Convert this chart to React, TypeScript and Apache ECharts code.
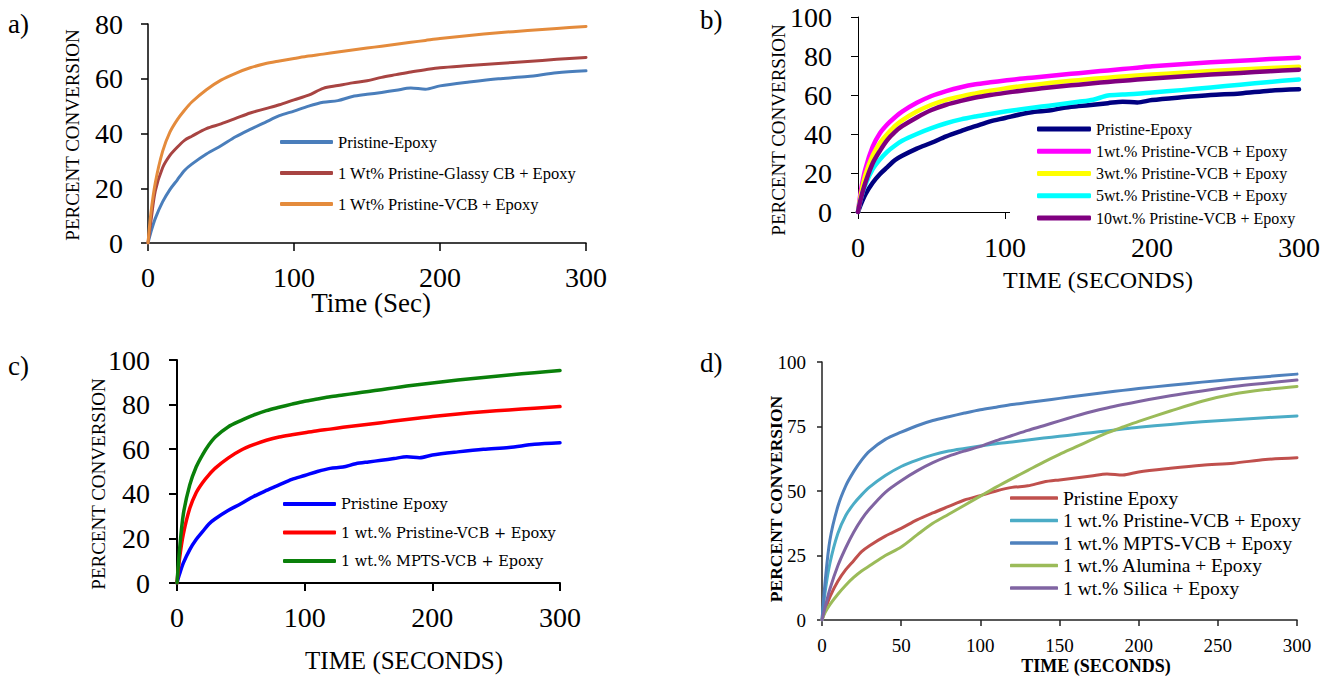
import React, { useEffect, useRef } from "react";
import * as echarts from "echarts";

// ---- data (time in seconds, percent conversion) ----
const time = [0, 2, 5, 10, 15, 20, 25, 30, 40, 50, 60, 70, 80, 90, 100, 110, 120, 130, 140, 150, 160, 170, 180, 190, 200, 220, 240, 260, 280, 300];

const pristineEpoxy = [0, 4, 9, 15, 19.5, 23, 26.5, 28.8, 32.5, 35.5, 38.8, 41.5, 44, 46.5, 48.2, 50, 51.4, 52, 53.5, 54.3, 55, 55.8, 56.6, 56.2, 57.4, 58.8, 60, 60.8, 62.2, 62.9];
const glassyCB = [0, 8, 19, 27.5, 32, 35, 37.5, 39, 41.8, 43.5, 45.5, 47.5, 49, 50.5, 52.3, 54, 56.5, 57.5, 58.5, 59.3, 60.5, 61.5, 62.5, 63.3, 64, 64.8, 65.6, 66.3, 67.1, 67.8];
const vcb1 = [0, 11, 22, 33.5, 40.5, 45, 48.5, 51.5, 56, 59.5, 62, 64, 65.5, 66.5, 67.4, 68.3, 69, 69.8, 70.5, 71.2, 71.9, 72.6, 73.3, 74, 74.7, 75.8, 76.8, 77.6, 78.4, 79.1];
const vcb3 = [0, 9, 19, 29, 35.5, 40, 44, 47, 51.5, 55, 57.5, 59.3, 60.8, 62.2, 63.4, 64.4, 65.3, 66.1, 66.9, 67.6, 68.3, 68.9, 69.5, 70, 70.5, 71.4, 72.3, 73.1, 73.8, 74.5];
const vcb5 = [0, 7, 14, 22, 27, 31, 34, 36.5, 40, 43, 45.5, 47.5, 49, 50.3, 51.5, 52.6, 53.6, 54.5, 55.5, 56.5, 57.6, 59.7, 60.2, 60.6, 61.3, 62.5, 63.9, 65.3, 66.7, 68];
const vcb10 = [0, 7, 15, 25, 31.5, 37, 41, 44, 48.5, 52.3, 55, 57, 58.7, 60, 61.1, 62.1, 63, 63.8, 64.6, 65.3, 66, 66.7, 67.3, 67.9, 68.5, 69.5, 70.5, 71.3, 72.2, 73];
const mpts = [0, 15, 31, 44, 52, 57.5, 62, 65.5, 70, 72.8, 75.3, 77.3, 78.8, 80.2, 81.5, 82.5, 83.5, 84.3, 85.1, 85.9, 86.7, 87.5, 88.3, 89, 89.7, 91, 92.2, 93.3, 94.3, 95.3];
const alumina = [0, 3, 6, 10, 13.5, 16.5, 19, 21, 25, 28.3, 33, 37.5, 41, 44.5, 48, 51.5, 54.8, 58, 61.2, 64.2, 67, 69.8, 72.5, 74.8, 77, 81, 84.8, 87.6, 89.3, 90.5];
const silica = [0, 5, 12, 21, 28, 34, 39, 43, 49.5, 54, 57.8, 61, 63.5, 65.5, 67.3, 69.5, 71.5, 73.5, 75.3, 77.2, 79, 80.7, 82.2, 83.5, 84.7, 86.9, 88.8, 90.5, 91.8, 93];

// legend labels per panel
const namesA = ["Pristine-Epoxy", "1 Wt% Pristine-Glassy CB + Epoxy", "1 Wt% Pristine-VCB + Epoxy"];
const namesB = ["Pristine-Epoxy", "1wt.% Pristine-VCB + Epoxy", "3wt.% Pristine-VCB + Epoxy", "5wt.% Pristine-VCB + Epoxy", "10wt.% Pristine-VCB + Epoxy"];
const namesC = ["Pristine Epoxy", "1 wt.% Pristine-VCB + Epoxy", "1 wt.% MPTS-VCB + Epoxy"];
const namesD = ["Pristine Epoxy", "1 wt.% Pristine-VCB + Epoxy", "1 wt.% MPTS-VCB + Epoxy", "1 wt.% Alumina + Epoxy", "1 wt.% Silica + Epoxy"];

const xTicksAC = [0, 100, 200, 300];
const yTicksA = [0, 20, 40, 60, 80];

const SERIF = "'Liberation Serif', 'Times New Roman', serif";
const DJV = "'DejaVu Serif', serif";

const pair = (vals: number[]) => time.map((t, i) => [t, vals[i]]);

export default function App() {
  const ref = useRef<HTMLDivElement>(null);
  useEffect(() => {
    if (!ref.current) return;
    const chart = echarts.init(ref.current, null, { renderer: "svg" });

    const mkSeries = (name: string, panel: string, vals: number[], color: string, width: number, gi: number) => ({
      name: name + "|" + panel,
      type: "line",
      xAxisIndex: gi,
      yAxisIndex: gi,
      data: pair(vals),
      showSymbol: false,
      symbol: "none",
      smooth: 0.3,
      itemStyle: { color },
      lineStyle: { color, width, cap: "round", join: "round" },
      z: 2,
    });

    const xAx = (gi: number, interval: number, fontSize: number, margin: number, lw: number, tl: number, col: string, family: string) => ({
      type: "value",
      gridIndex: gi,
      min: 0,
      max: xTicksAC[xTicksAC.length - 1],
      interval,
      axisLine: { show: true, onZero: false, lineStyle: { color: col, width: lw } },
      axisTick: { show: true, inside: false, length: tl, lineStyle: { color: col, width: lw } },
      axisLabel: { fontSize, fontFamily: family, color: "#000", margin },
      splitLine: { show: false },
    });
    const yAx = (gi: number, max: number, interval: number, fontSize: number, margin: number, lw: number, tl: number, col: string, family: string) => ({
      type: "value",
      gridIndex: gi,
      min: 0,
      max,
      interval,
      axisLine: { show: true, onZero: false, lineStyle: { color: col, width: lw } },
      axisTick: { show: true, inside: false, length: tl, lineStyle: { color: col, width: lw } },
      axisLabel: { fontSize, fontFamily: family, color: "#000", margin },
      splitLine: { show: false },
    });

    const fmt = (n: string) => n.split("|")[0];
    const legend = (names: string[], panel: string, o: any) => ({
      orient: "vertical",
      selectedMode: false,
      icon: "roundRect",
      formatter: fmt,
      data: names.map((n) => n + "|" + panel),
      ...o,
    });

    const txt = (text: string, x: number, y: number, size: number, opts: any = {}) => ({
      type: "text",
      x,
      y,
      rotation: opts.rot || 0,
      style: {
        text,
        fontSize: size,
        fontFamily: opts.family || SERIF,
        fontWeight: opts.bold ? "bold" : "normal",
        fill: "#000",
        align: opts.align || "center",
        verticalAlign: "middle",
      },
      z: 10,
    });

    const option: any = {
      animation: false,
      backgroundColor: "#fff",
      grid: [
        { left: 148, top: 24, width: 438, height: 219 },
        { left: 858, top: 17, width: 441, height: 195 },
        { left: 177, top: 360, width: 383, height: 223 },
        { left: 822, top: 362, width: 475, height: 258 },
      ],
      xAxis: [
        xAx(0, 100, 28, 20, 1.5, 8, "#000", SERIF),
        xAx(1, 100, 28, 21, 1, 7, "#000", SERIF),
        xAx(2, 100, 28, 20, 2, 8, "#000", SERIF),
        xAx(3, 50, 19, 16, 1.5, 6, "#222", SERIF),
      ],
      yAxis: [
        yAx(0, yTicksA[yTicksA.length - 1], 20, 28, 25, 1.5, 7, "#000", SERIF),
        yAx(1, 100, 20, 28, 26, 1, 7, "#000", SERIF),
        yAx(2, 100, 20, 28, 27, 2, 8, "#000", SERIF),
        yAx(3, 100, 25, 19, 16, 1.5, 5, "#222", SERIF),
      ],
      legend: [
        legend(namesA, "a", {
          left: 280, top: 132, padding: 0, itemWidth: 53, itemHeight: 4, itemGap: 11,
          textStyle: { fontSize: 16.5, fontFamily: SERIF, color: "#000", lineHeight: 20 },
        }),
        legend(namesB, "b", {
          left: 1010, top: 119, padding: [1, 10, 4, 27], itemWidth: 54, itemHeight: 5, itemGap: 4.25,
          backgroundColor: "#fff",
          textStyle: { fontSize: 16, fontFamily: SERIF, color: "#000", lineHeight: 18 },
        }),
        legend(namesC, "c", {
          left: 283, top: 495, padding: 0, itemWidth: 53, itemHeight: 4, itemGap: 10.5,
          textStyle: { fontSize: 14.5, fontFamily: DJV, color: "#000", lineHeight: 18 },
        }),
        legend(namesD, "d", {
          left: 1010, top: 488, padding: 0, itemWidth: 48, itemHeight: 3.5, itemGap: 2.5,
          textStyle: { fontSize: 19.5, fontFamily: SERIF, color: "#000", lineHeight: 20 },
        }),
      ],
      series: [
        mkSeries(namesA[0], "a", pristineEpoxy, "#4A7EBB", 3, 0),
        mkSeries(namesA[1], "a", glassyCB, "#A84442", 3, 0),
        mkSeries(namesA[2], "a", vcb1, "#E48B3C", 3, 0),

        mkSeries(namesB[0], "b", pristineEpoxy, "#000080", 4.5, 1),
        mkSeries(namesB[1], "b", vcb1, "#FF00FF", 4.5, 1),
        mkSeries(namesB[2], "b", vcb3, "#FFFF00", 4.5, 1),
        mkSeries(namesB[3], "b", vcb5, "#00FFFF", 4.5, 1),
        mkSeries(namesB[4], "b", vcb10, "#800080", 4.5, 1),

        mkSeries(namesC[0], "c", pristineEpoxy, "#0000FF", 3.5, 2),
        mkSeries(namesC[1], "c", vcb1, "#FF0000", 3.5, 2),
        mkSeries(namesC[2], "c", mpts, "#0A800A", 3.5, 2),

        mkSeries(namesD[0], "d", pristineEpoxy, "#C0504D", 3, 3),
        mkSeries(namesD[1], "d", vcb1, "#4BACC6", 3, 3),
        mkSeries(namesD[2], "d", mpts, "#4F81BD", 3, 3),
        mkSeries(namesD[3], "d", alumina, "#9BBB59", 3, 3),
        mkSeries(namesD[4], "d", silica, "#8064A2", 3, 3),
      ],
      graphic: [
        txt("a)", 8, 24, 27, { align: "left" }),
        txt("b)", 700, 20, 27, { align: "left" }),
        txt("c)", 8, 366, 27, { align: "left" }),
        txt("d)", 700, 363, 27, { align: "left" }),
        txt("PERCENT CONVERSION", 72, 135, 19, { rot: Math.PI / 2 }),
        txt("Time (Sec)", 371, 303, 27),
        txt("PERCENT CONVERSION", 778, 130, 19, { rot: Math.PI / 2 }),
        txt("TIME (SECONDS)", 1098, 280, 24),
        txt("PERCENT CONVERSION", 98, 484, 19, { rot: Math.PI / 2 }),
        txt("TIME (SECONDS)", 404, 660, 25),
        txt("PERCENT CONVERSION", 776, 499, 17.5, { rot: Math.PI / 2, bold: true }),
        txt("TIME (SECONDS)", 1096, 666, 18, { bold: true }),
      ],
    };
    chart.setOption(option);
    return () => chart.dispose();
  }, []);
  return (
    <div
      ref={ref}
      style={{ position: "fixed", left: 0, top: 0, width: 1330, height: 679, background: "#fff" }}
    />
  );
}
